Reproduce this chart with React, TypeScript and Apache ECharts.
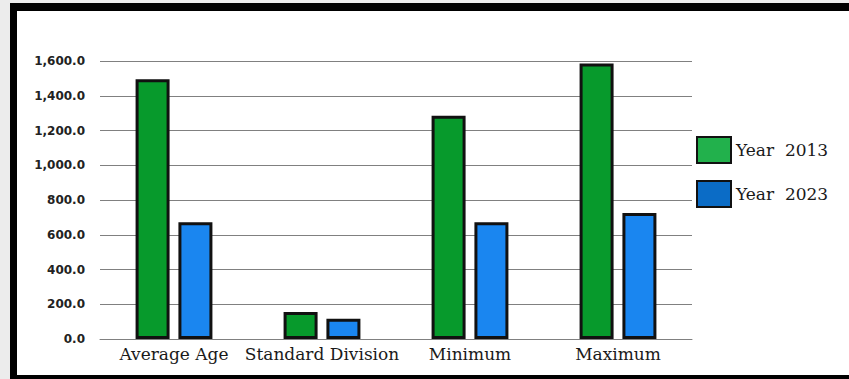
import React, { useEffect, useRef } from "react";
import * as echarts from "echarts";

const categories = ["Average Age", "Standard Division", "Minimum", "Maximum"];
const seriesNames = ["Year  2013", "Year  2023"];
const year2013 = [1495, 155, 1285, 1585];
const year2023 = [672, 117, 672, 725];
const yTicks = { min: 0, max: 1600, interval: 200 };

export default function App() {
  const ref = useRef<HTMLDivElement>(null);
  useEffect(() => {
    document.body.style.margin = "0";
    if (!ref.current) return;
    const chart = echarts.init(ref.current, null, { renderer: "svg" });
    chart.setOption({
      animation: false,
      backgroundColor: "transparent",
      grid: { left: 100, right: 157, top: 61, bottom: 40 },
      legend: {
        orient: "vertical",
        left: 691,
        top: 131,
        itemWidth: 34,
        itemHeight: 26,
        itemGap: 16,
        textStyle: { fontFamily: "DejaVu Serif", fontSize: 17, color: "#1a1a1a" },
        data: [
          { name: seriesNames[0], icon: "rect", itemStyle: { color: "#22b14c", borderColor: "#111", borderWidth: 2 } },
          { name: seriesNames[1], icon: "rect", itemStyle: { color: "#0b6cc6", borderColor: "#111", borderWidth: 2 } },
        ],
      },
      xAxis: {
        type: "category",
        data: categories,
        axisLine: { show: true, lineStyle: { color: "#808080", width: 1 } },
        axisTick: { show: false },
        axisLabel: { fontFamily: "DejaVu Serif", fontSize: 17, color: "#1a1a1a", margin: 6, interval: 0 },
      },
      yAxis: {
        type: "value",
        min: yTicks.min,
        max: yTicks.max,
        interval: yTicks.interval,
        axisLine: { show: false },
        axisTick: { show: false },
        splitLine: { lineStyle: { color: "#808080", width: 1 } },
        axisLabel: {
          fontFamily: "DejaVu Sans",
          fontWeight: "bold",
          fontSize: 12,
          color: "#222",
          margin: 15,
          formatter: (v: number) =>
            v.toLocaleString("en-US", { minimumFractionDigits: 1, maximumFractionDigits: 1 }),
        },
      },
      series: [
        {
          name: seriesNames[0],
          type: "bar",
          data: year2013,
          barWidth: 34,
          barGap: "26%",
          itemStyle: { color: "#079a2c", borderColor: "#111", borderWidth: 3 },
        },
        {
          name: seriesNames[1],
          type: "bar",
          data: year2023,
          barWidth: 34,
          barGap: "26%",
          itemStyle: { color: "#1a86f0", borderColor: "#111", borderWidth: 3 },
        },
      ],
    });
    return () => chart.dispose();
  }, []);

  return (
    <div style={{ position: "relative", width: 849, height: 379, background: "#ececec", overflow: "hidden" }}>
      <div
        style={{
          position: "absolute",
          left: 10,
          top: 3,
          width: 839,
          height: 376,
          boxSizing: "border-box",
          background: "#fff",
          borderLeft: "7px solid #000",
          borderTop: "8px solid #000",
          borderBottom: "4px solid #000",
        }}
      />
      <div ref={ref} style={{ position: "absolute", left: 0, top: 0, width: 849, height: 379 }} />
    </div>
  );
}
